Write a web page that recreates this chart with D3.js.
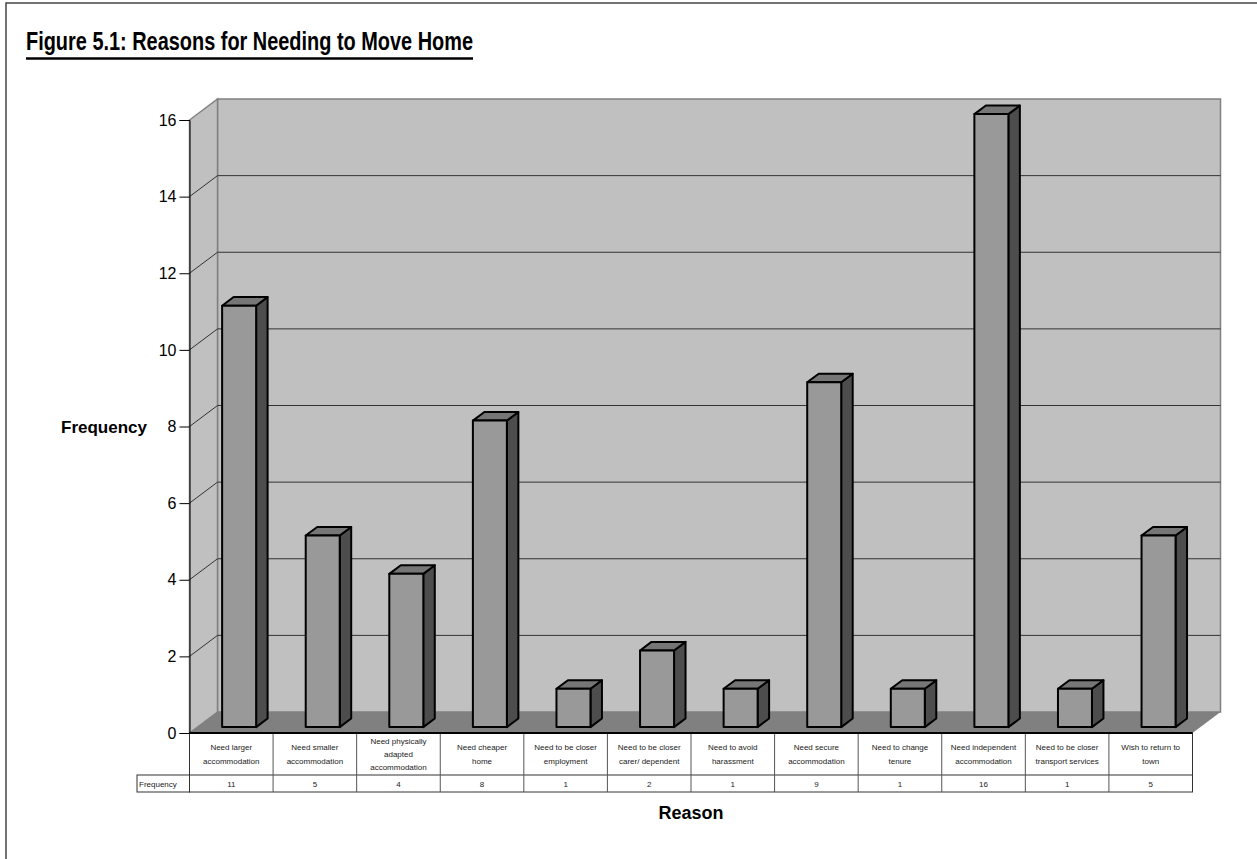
<!DOCTYPE html>
<html>
<head>
<meta charset="utf-8">
<script src="https://cdn.jsdelivr.net/npm/d3@7"></script>
<style>
  body { margin: 0; background: #fff; }
  svg { display: block; font-family: "Liberation Sans", Arial, sans-serif; }
</style>
</head>
<body>
<svg></svg>
<script>
// data
const categories = [
    ['Need larger', 'accommodation'],
    ['Need smaller', 'accommodation'],
    ['Need physically', 'adapted', 'accommodation'],
    ['Need cheaper', 'home'],
    ['Need to be closer', 'employment'],
    ['Need to be closer', 'carer/ dependent'],
    ['Need to avoid', 'harassment'],
    ['Need secure', 'accommodation'],
    ['Need to change', 'tenure'],
    ['Need independent', 'accommodation'],
    ['Need to be closer', 'transport services'],
    ['Wish to return to', 'town']
];
const frequencies = [11, 5, 4, 8, 1, 2, 1, 9, 1, 16, 1, 5];
const yTicks = [0, 2, 4, 6, 8, 10, 12, 14, 16];

const width = 1257;
const height = 859;

// 3d depth of the walls and where the bars sit inside it
const DX = 28;
const DY = -21;
const f0 = 0.28;
const f1 = 0.69;
const barWidth = 34;

let svg = d3.select('svg').attr('width', width).attr('height', height);

const keys = categories.map((c, i) => i);
const xScale = d3.scaleBand().domain(keys).range([189.5, 1192.5]);
const yScale = d3.scaleLinear().domain([0, 16]).range([733, 120]);

const x0 = xScale.range()[0];
const x1 = xScale.range()[1];
const yBase = yScale(0);
const yTop = yScale(16);

const pts = arr => arr.map(p => p.join(',')).join(' ');

function drawFrame () {
    svg.append('path')
        .attr('d', 'M6,859 L6,3 L1257,3')
        .attr('fill', 'none')
        .attr('stroke', '#444')
        .attr('stroke-width', 1.5);

    svg.append('text')
        .attr('x', 26)
        .attr('y', 50)
        .attr('font-family', '"Liberation Sans Narrow", "Arial Narrow", "Liberation Sans", Arial, sans-serif')
        .attr('font-weight', 'bold')
        .attr('font-size', 26)
        .attr('textLength', 447)
        .attr('lengthAdjust', 'spacingAndGlyphs')
        .text('Figure 5.1: Reasons for Needing to Move Home');
    svg.append('line')
        .attr('x1', 26).attr('x2', 473)
        .attr('y1', 58.5).attr('y2', 58.5)
        .attr('stroke', '#000')
        .attr('stroke-width', 2.4);
}

function drawWalls () {
    // back wall
    svg.append('polygon')
        .attr('points', pts([[x0 + DX, yBase + DY], [x1 + DX, yBase + DY], [x1 + DX, yTop + DY], [x0 + DX, yTop + DY]]))
        .attr('fill', '#c0c0c0')
        .attr('stroke', '#808080')
        .attr('stroke-width', 1.5);
    // side wall
    svg.append('polygon')
        .attr('points', pts([[x0, yBase], [x0 + DX, yBase + DY], [x0 + DX, yTop + DY], [x0, yTop]]))
        .attr('fill', '#c0c0c0')
        .attr('stroke', '#808080')
        .attr('stroke-width', 1.5);

    // gridlines
    const grid = yTicks.filter(t => t > 0 && t < 16);
    svg.append('g').selectAll('path')
        .data(grid)
        .enter()
        .append('path')
        .attr('d', t => 'M' + x0 + ',' + yScale(t) + ' L' + (x0 + DX) + ',' + (yScale(t) + DY) + ' L' + (x1 + DX) + ',' + (yScale(t) + DY))
        .attr('fill', 'none')
        .attr('stroke', '#333')
        .attr('stroke-width', 1);

    // floor
    svg.append('polygon')
        .attr('points', pts([[x0, yBase], [x1, yBase], [x1 + DX, yBase + DY], [x0 + DX, yBase + DY]]))
        .attr('fill', '#808080');
}

function drawBars () {
    const ddx = DX * (f1 - f0);
    const ddy = DY * (f1 - f0);
    const bars = svg.append('g').selectAll('g')
        .data(frequencies)
        .enter()
        .append('g')
        .attr('stroke', '#000')
        .attr('stroke-width', 2)
        .attr('stroke-linejoin', 'round');

    const bx = (d, i) => xScale(i) + xScale.bandwidth() / 2 - barWidth / 2 + DX * f0;
    const top = d => yScale(d) + DY * f0;
    const bottom = yBase + DY * f0;

    bars.append('polygon')
        .attr('points', (d, i) => {
            const l = bx(d, i) + barWidth;
            return pts([[l, top(d)], [l + ddx, top(d) + ddy], [l + ddx, bottom + ddy], [l, bottom]]);
        })
        .attr('fill', '#4d4d4d');
    bars.append('polygon')
        .attr('points', (d, i) => {
            const l = bx(d, i);
            return pts([[l, top(d)], [l + ddx, top(d) + ddy], [l + barWidth + ddx, top(d) + ddy], [l + barWidth, top(d)]]);
        })
        .attr('fill', '#767676');
    bars.append('rect')
        .attr('x', (d, i) => bx(d, i))
        .attr('y', d => top(d))
        .attr('width', barWidth)
        .attr('height', d => bottom - top(d))
        .attr('fill', '#999999');
}

function drawAxis () {
    let yAxis = d3.axisLeft(yScale).tickValues(yTicks).tickSize(10).tickPadding(3);
    let g = svg.append('g')
        .attr('transform', 'translate(' + x0 + ', 0)')
        .call(yAxis);
    g.selectAll('path, line').attr('stroke', '#000');
    g.selectAll('text')
        .attr('font-family', '"Liberation Sans", Arial, sans-serif')
        .attr('font-size', 16)
        .attr('fill', '#000');

    svg.append('text')
        .attr('x', 104)
        .attr('y', 433)
        .attr('text-anchor', 'middle')
        .attr('font-weight', 'bold')
        .attr('font-size', 17)
        .text('Frequency');

    svg.append('text')
        .attr('x', (x0 + x1) / 2)
        .attr('y', 819)
        .attr('text-anchor', 'middle')
        .attr('font-weight', 'bold')
        .attr('font-size', 18)
        .text('Reason');
}

function drawTable () {
    const rowTop = 733;
    const rowMid = 775;
    const rowBot = 792;
    const t = svg.append('g');

    t.append('rect')
        .attr('x', x0).attr('y', rowTop)
        .attr('width', x1 - x0).attr('height', rowBot - rowTop)
        .attr('fill', '#fff').attr('stroke', '#333').attr('stroke-width', 1);
    t.append('rect')
        .attr('x', 137).attr('y', rowMid)
        .attr('width', x0 - 137).attr('height', rowBot - rowMid)
        .attr('fill', '#fff').attr('stroke', '#333').attr('stroke-width', 1);
    t.append('line')
        .attr('x1', x0).attr('x2', x1).attr('y1', rowMid).attr('y2', rowMid)
        .attr('stroke', '#333');
    t.selectAll('line.sep')
        .data(keys.slice(1))
        .enter()
        .append('line')
        .attr('class', 'sep')
        .attr('x1', i => xScale(i)).attr('x2', i => xScale(i))
        .attr('y1', rowTop).attr('y2', rowBot)
        .attr('stroke', '#555');
    t.append('line')
        .attr('x1', x0).attr('x2', x1).attr('y1', rowTop).attr('y2', rowTop)
        .attr('stroke', '#000').attr('stroke-width', 2);

    const cx = i => xScale(i) + xScale.bandwidth() / 2;
    const lineH = 13.3;
    t.selectAll('text.cat')
        .data(categories)
        .enter()
        .append('text')
        .attr('class', 'cat')
        .attr('text-anchor', 'middle')
        .attr('font-size', 8)
        .attr('fill', '#222')
        .each(function (lines, i) {
            const first = (rowTop + rowMid) / 2 - (lines.length - 1) * lineH / 2 + 3;
            d3.select(this).selectAll('tspan')
                .data(lines)
                .enter()
                .append('tspan')
                .attr('x', cx(i))
                .attr('y', (s, j) => first + j * lineH)
                .text(s => s);
        });

    t.selectAll('text.val')
        .data(frequencies)
        .enter()
        .append('text')
        .attr('class', 'val')
        .attr('x', (d, i) => cx(i))
        .attr('y', (rowMid + rowBot) / 2 + 3)
        .attr('text-anchor', 'middle')
        .attr('font-size', 8)
        .attr('fill', '#222')
        .text(d => d);

    t.append('text')
        .attr('x', 139)
        .attr('y', (rowMid + rowBot) / 2 + 3)
        .attr('font-size', 8)
        .attr('fill', '#222')
        .text('Frequency');
}

drawFrame();
drawWalls();
drawBars();
drawAxis();
drawTable();
</script>
</body>
</html>
